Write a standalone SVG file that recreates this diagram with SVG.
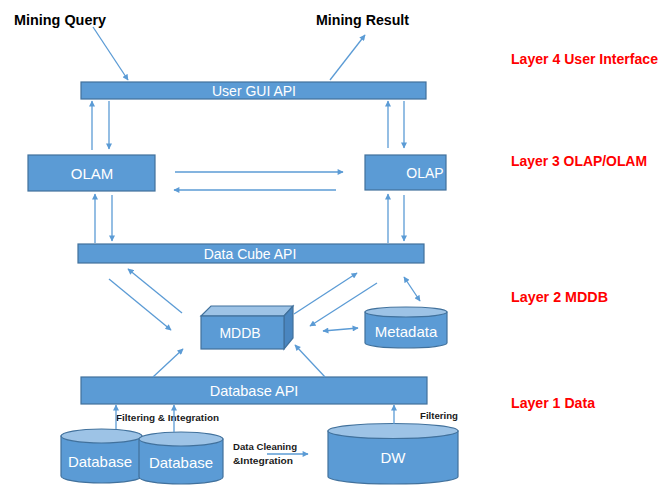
<svg xmlns="http://www.w3.org/2000/svg" width="659" height="486" viewBox="0 0 659 486">
<style>
.box{fill:#5B9BD5;stroke:#41719C;stroke-width:1.2}
.top{fill:#9DC3E6;stroke:#41719C;stroke-width:1.2}
.side{fill:#4A86C0;stroke:#41719C;stroke-width:1.2}
.lbl{font-family:"Liberation Sans",Arial,sans-serif;fill:#FFFFFF;text-anchor:middle;dominant-baseline:central}
.blk{font-family:"Liberation Sans",Arial,sans-serif;font-weight:bold;fill:#000000}
.red{font-family:"Liberation Sans",Arial,sans-serif;font-weight:bold;fill:#FF0000;font-size:14px}
.sm{font-family:"Liberation Sans",Arial,sans-serif;font-weight:bold;fill:#1A1A1A;font-size:9px}
.ln{stroke:#5B9BD5;stroke-width:1.3;fill:none}
</style>
<defs>
<marker id="ah" viewBox="0 0 10 10" refX="9" refY="5" markerUnits="userSpaceOnUse" markerWidth="7" markerHeight="6" orient="auto-start-reverse">
<path d="M0,0 L10,5 L0,10 Z" fill="#5B9BD5"/>
</marker>
</defs>
<rect width="659" height="486" fill="#FFFFFF"/>

<g id="labels">
<text class="blk" x="14" y="25" font-size="14" textLength="92" lengthAdjust="spacingAndGlyphs">Mining Query</text>
<text class="blk" x="316" y="25" font-size="14" textLength="93" lengthAdjust="spacingAndGlyphs">Mining Result</text>
<text class="red" x="511" y="64" textLength="147" lengthAdjust="spacingAndGlyphs">Layer 4 User Interface</text>
<text class="red" x="511" y="166" textLength="136" lengthAdjust="spacingAndGlyphs">Layer 3 OLAP/OLAM</text>
<text class="red" x="511" y="302" textLength="97" lengthAdjust="spacingAndGlyphs">Layer 2 MDDB</text>
<text class="red" x="511" y="408" textLength="84" lengthAdjust="spacingAndGlyphs">Layer 1 Data</text>
<text class="sm" x="116" y="421" textLength="103" lengthAdjust="spacingAndGlyphs">Filtering &amp; Integration</text>
<text class="sm" x="233" y="450" textLength="64" lengthAdjust="spacingAndGlyphs">Data Cleaning</text>
<text class="sm" x="233" y="464" textLength="60" lengthAdjust="spacingAndGlyphs">&amp;Integration</text>
<text class="sm" x="420" y="419" textLength="38" lengthAdjust="spacingAndGlyphs">Filtering</text>
</g>

<g id="user-gui-api">
<rect class="box" x="81" y="82" width="345" height="17"/>
<text class="lbl" x="254" y="90.5" font-size="14">User GUI API</text>
</g>

<g id="olam">
<rect class="box" x="28" y="155" width="127" height="36"/>
<text class="lbl" x="92" y="173" font-size="15">OLAM</text>
</g>

<g id="olap">
<rect class="box" x="365" y="155" width="81" height="35"/>
<text class="lbl" x="425" y="173" font-size="14">OLAP</text>
</g>

<g id="data-cube-api">
<rect class="box" x="78" y="244" width="346" height="19"/>
<text class="lbl" x="250" y="253.5" font-size="14">Data Cube API</text>
</g>

<g id="mddb">
<path class="top" d="M201,316 L211,306 L293,306 L284,316 Z"/>
<path class="side" d="M284,316 L293,306 L293,338 L284,349 Z"/>
<rect class="box" x="201" y="316" width="83" height="33"/>
<text class="lbl" x="240" y="333" font-size="14">MDDB</text>
</g>

<g id="metadata">
<path class="box" d="M365,312 V343 A41,5 0 0 0 447,343 V312 Z"/>
<ellipse class="top" cx="406" cy="312" rx="41" ry="5"/>
<text class="lbl" x="406" y="331" font-size="15">Metadata</text>
</g>

<g id="database-api">
<rect class="box" x="81" y="377" width="346" height="27"/>
<text class="lbl" x="254" y="391" font-size="14.5">Database API</text>
</g>

<g id="database-1">
<path class="box" d="M61,436 V476 A40.5,7 0 0 0 142,476 V436 Z"/>
<ellipse class="top" cx="101.5" cy="436" rx="40.5" ry="7"/>
<text class="lbl" x="100" y="461" font-size="15">Database</text>
</g>

<g id="database-2">
<path class="box" d="M139,439 V477 A42,7 0 0 0 223,477 V439 Z"/>
<ellipse class="top" cx="181" cy="439" rx="42" ry="7"/>
<text class="lbl" x="181" y="462" font-size="15">Database</text>
</g>

<g id="dw">
<path class="box" d="M328,431 V476.5 A65,7.5 0 0 0 458,476.5 V431 Z"/>
<ellipse class="top" cx="393" cy="431" rx="65" ry="7.5"/>
<text class="lbl" x="393" y="457" font-size="15">DW</text>
</g>

<g id="connectors">
<line class="ln" x1="93" y1="27" x2="128" y2="80" marker-end="url(#ah)"/>
<line class="ln" x1="330" y1="80" x2="365" y2="35" marker-end="url(#ah)"/>
<line class="ln" x1="92" y1="150" x2="92" y2="101" marker-end="url(#ah)"/>
<line class="ln" x1="109" y1="101" x2="109" y2="149" marker-end="url(#ah)"/>
<line class="ln" x1="388" y1="148" x2="388" y2="101" marker-end="url(#ah)"/>
<line class="ln" x1="404" y1="101" x2="404" y2="148" marker-end="url(#ah)"/>
<line class="ln" x1="95" y1="243" x2="95" y2="194" marker-end="url(#ah)"/>
<line class="ln" x1="112" y1="195" x2="112" y2="241" marker-end="url(#ah)"/>
<line class="ln" x1="388" y1="243" x2="388" y2="194" marker-end="url(#ah)"/>
<line class="ln" x1="404" y1="195" x2="404" y2="241" marker-end="url(#ah)"/>
<line class="ln" x1="175" y1="172" x2="343" y2="172" marker-end="url(#ah)"/>
<line class="ln" x1="336" y1="190" x2="174" y2="190" marker-end="url(#ah)"/>
<line class="ln" x1="182" y1="313" x2="128" y2="269" marker-end="url(#ah)"/>
<line class="ln" x1="109" y1="279" x2="171" y2="330" marker-end="url(#ah)"/>
<line class="ln" x1="153" y1="377" x2="183" y2="349" marker-end="url(#ah)"/>
<line class="ln" x1="325" y1="377" x2="295" y2="345" marker-end="url(#ah)"/>
<line class="ln" x1="294" y1="314" x2="357" y2="273" marker-end="url(#ah)"/>
<line class="ln" x1="377" y1="283" x2="310" y2="326" marker-end="url(#ah)"/>
<line class="ln" x1="323" y1="331" x2="358" y2="328" marker-start="url(#ah)" marker-end="url(#ah)"/>
<line class="ln" x1="404" y1="277" x2="420" y2="301" marker-start="url(#ah)" marker-end="url(#ah)"/>
<line class="ln" x1="116" y1="429" x2="116" y2="405" marker-end="url(#ah)"/>
<line class="ln" x1="174" y1="432" x2="174" y2="405" marker-end="url(#ah)"/>
<line class="ln" x1="394" y1="424" x2="394" y2="405" marker-end="url(#ah)"/>
<line class="ln" x1="267" y1="454" x2="308" y2="454" marker-end="url(#ah)"/>
</g>
</svg>
